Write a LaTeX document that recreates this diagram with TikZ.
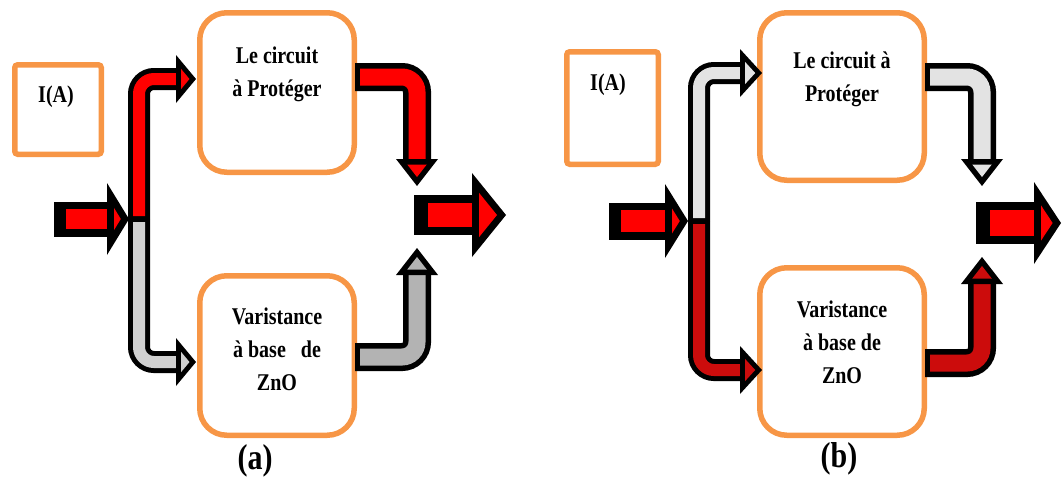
\documentclass[tikz,border=0pt]{standalone}
\usepackage{fontspec}
\setmainfont{Liberation Serif}
\usepackage{graphicx}
\definecolor{boxorange}{HTML}{F79646}
\definecolor{pathgray}{HTML}{D0D0D0}
\definecolor{outgray}{HTML}{B3B3B3}
\definecolor{palegray}{HTML}{E3E3E3}
\definecolor{darkred}{HTML}{CC0C0C}
\def\tall#1{\scalebox{1}[1.2]{#1}}
\def\blockhead[#1](#2)(#3:#4:#5:#6){% Syntax: [fill colour] (tip) (angle:length:half width:border)
  \begin{scope}[shift={(#2)}, rotate=#3]
    \pgfmathsetmacro\inr{#4*#5/(#5+sqrt(#4*#4+#5*#5))}
    \pgfmathsetmacro\fac{(\inr-#6)/\inr}
    \pgfmathsetmacro\tipx{-#4+\inr+\fac*(#4-\inr)}
    \pgfmathsetmacro\basex{-#4+#6}
    \pgfmathsetmacro\halfw{\fac*#5}
    \fill[black] (0,0) -- (-#4,#5) -- (-#4,-#5) -- cycle;
    \fill[#1] (\tipx,0) -- (\basex,\halfw) -- (\basex,-\halfw) -- cycle;
  \end{scope}}

\begin{document}
\begin{tikzpicture}[x=1pt, y=-1pt,
  unit/.style={draw=boxorange, line width=5.5pt, inner sep=0pt, rounded corners=27pt},
  pipe/.style={line width=#1, line cap=butt, rounded corners=15pt},
  txt/.style={font=\fontsize{20}{33}\selectfont\bfseries, align=center},
  tag/.style={font=\fontsize{30}{30}\selectfont\bfseries}]

\useasboundingbox (0,0) rectangle (1062,477);

% ----- (a) -----
\node[unit, rounded corners=3pt, minimum width=86.5pt, minimum height=89.5pt] (iboxA) at (58,109.5) {};
\node[txt] (ilabA) at (56,97) {\tall{I(A)}};
\node[unit, minimum width=154.5pt, minimum height=159.5pt] (protA) at (277,92.5) {};
\node[txt] (protTxtA) at (277,74) {\tall{Le circuit}\\\tall{à Protéger}};
\node[unit, minimum width=154.5pt, minimum height=159.5pt] (varA) at (277,355.5) {};
\node[txt] (varTxtA) at (277,349) {\tall{Varistance}\\\tall{à base~~~de}\\\tall{ZnO}};
\node[tag] (capA) at (255,461) {\tall{(a)}};

\coordinate (splitA) at (139,219);
\coordinate (tipA1) at (196,79);
\coordinate (tipA2) at (196,362);
\coordinate (srcA1) at (355,77);
\coordinate (tipA3) at (417,186);
\coordinate (srcA2) at (355,357);
\coordinate (tipA4) at (417,248);
\coordinate (inA) at (54,219);
\coordinate (inTipA) at (129,219);
\coordinate (outA) at (414,215);
\coordinate (outTipA) at (506,215);

\draw[pipe=22pt, shorten >=14pt] (splitA) |- (tipA1);
\draw[pipe=12pt, red, shorten <=3pt, shorten >=14pt] (splitA) |- (tipA1);
\blockhead[red](tipA1)(0:20:24:5)
\draw[pipe=22pt, shorten >=14pt] (splitA) |- (tipA2);
\draw[pipe=12pt, pathgray, shorten <=3pt, shorten >=14pt] (splitA) |- (tipA2);
\blockhead[pathgray](tipA2)(0:20:24:5)

\draw[pipe=28pt, shorten >=20.5pt] (srcA1) -| (tipA3);
\draw[pipe=17pt, red, shorten <=5pt, shorten >=20.5pt] (srcA1) -| (tipA3);
\blockhead[red](tipA3)(-90:27:21:5.5)
\draw[pipe=28pt, shorten >=20.5pt] (srcA2) -| (tipA4);
\draw[pipe=17pt, outgray, shorten <=5pt, shorten >=20.5pt] (srcA2) -| (tipA4);
\blockhead[outgray](tipA4)(90:27:21:5.5)

\draw[pipe=35pt, shorten >=14pt] (inA) -- (inTipA);
\draw[pipe=20pt, red, shorten <=12pt, shorten >=14pt] (inA) -- (inTipA);
\blockhead[red](inTipA)(0:22:36:7)
\draw[pipe=40pt, shorten >=26pt] (outA) -- (outTipA);
\draw[pipe=24pt, red, shorten <=14pt, shorten >=26pt] (outA) -- (outTipA);
\blockhead[red](outTipA)(0:34:42:7)

% ----- (b) -----
\node[unit, rounded corners=3pt, minimum width=91.5pt, minimum height=112.5pt] (iboxB) at (612.5,108) {};
\node[txt] (ilabB) at (608,85) {\tall{I(A)}};
\node[unit, minimum width=164.5pt, minimum height=167.5pt] (protB) at (842,96.5) {};
\node[txt] (protTxtB) at (842,79) {\tall{Le circuit à}\\\tall{Protéger}};
\node[unit, minimum width=164.5pt, minimum height=167.5pt] (varB) at (842,351.5) {};
\node[txt] (varTxtB) at (842,342) {\tall{Varistance}\\\tall{à base de}\\\tall{ZnO}};
\node[tag] (capB) at (839,459) {\tall{(b)}};

\coordinate (splitB) at (699,221);
\coordinate (tipB1) at (762,73);
\coordinate (tipB2) at (762,370);
\coordinate (srcB1) at (925,77);
\coordinate (tipB3) at (982,186);
\coordinate (srcB2) at (925,363);
\coordinate (tipB4) at (982,257);
\coordinate (inB) at (609,221);
\coordinate (inTipB) at (688,221);
\coordinate (outB) at (976,223);
\coordinate (outTipB) at (1061,223);

\draw[pipe=22pt, shorten >=16pt] (splitB) |- (tipB1);
\draw[pipe=12pt, palegray, shorten <=3pt, shorten >=16pt] (splitB) |- (tipB1);
\blockhead[palegray](tipB1)(0:22:24:5)
\draw[pipe=22pt, shorten >=16pt] (splitB) |- (tipB2);
\draw[pipe=12pt, darkred, shorten <=3pt, shorten >=16pt] (splitB) |- (tipB2);
\blockhead[darkred](tipB2)(0:22:24:5)

\draw[pipe=28pt, shorten >=20.5pt] (srcB1) -| (tipB3);
\draw[pipe=17pt, palegray, shorten <=5pt, shorten >=20.5pt] (srcB1) -| (tipB3);
\blockhead[palegray](tipB3)(-90:27:21:5.5)
\draw[pipe=28pt, shorten >=20.5pt] (srcB2) -| (tipB4);
\draw[pipe=17pt, darkred, shorten <=5pt, shorten >=20.5pt] (srcB2) -| (tipB4);
\blockhead[darkred](tipB4)(90:27:21:5.5)

\draw[pipe=37pt, shorten >=15pt] (inB) -- (inTipB);
\draw[pipe=22pt, red, shorten <=12pt, shorten >=15pt] (inB) -- (inTipB);
\blockhead[red](inTipB)(0:23:37:7)
\draw[pipe=42pt, shorten >=19pt] (outB) -- (outTipB);
\draw[pipe=26pt, red, shorten <=14pt, shorten >=19pt] (outB) -- (outTipB);
\blockhead[red](outTipB)(0:27:41:7)

\end{tikzpicture}
\end{document}
